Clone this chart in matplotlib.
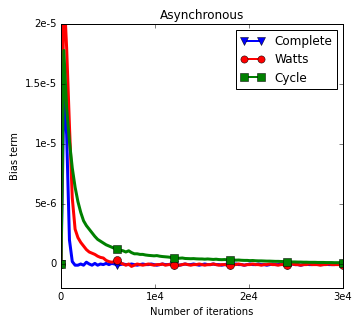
import numpy as np
import matplotlib
matplotlib.use("Agg")
import matplotlib.pyplot as plt

plt.style.use('classic')

iterations = np.arange(0, 30001, 300)

# values in units of 1e-6
complete = [0, 13.8, 10.8, 2.0, 0.2, -0.1, -0.1, 0.0, -0.1, 0.15,
            0.0, -0.1, 0.05, -0.1, 0.0, -0.05, 0.05, -0.05, 0.05, 0.0,
            -0.1, -0.05, 0.0, -0.05, -0.05, 0.0, -0.05, -0.1, -0.05, 0.0,
            -0.05, -0.05, 0.0, -0.05, -0.1, -0.05, 0.0, -0.05, -0.05, 0.0,
            -0.05, -0.05, -0.1, -0.05, 0.0, -0.05, -0.05, 0.0, -0.05, -0.1,
            -0.05, 0.0, -0.05, -0.05, 0.0, -0.05, -0.05, -0.1, -0.05, 0.0,
            -0.05, -0.05, 0.0, -0.05, -0.05, -0.1, -0.05, 0.0, -0.05, -0.05,
            0.0, -0.05, -0.05, -0.1, -0.05, 0.0, -0.05, -0.05, 0.0, -0.05,
            -0.05, -0.05, 0.0, -0.05, -0.05, -0.1, -0.05, 0.0, -0.05, -0.05,
            0.0, -0.05, -0.05, -0.05, 0.0, -0.05, -0.05, -0.05, 0.0, -0.05,
            -0.05]
watts = [0, 23.0, 18.0, 11.5, 5.5, 2.9, 2.2, 1.8, 1.5, 1.2,
         1.0, 0.9, 0.8, 0.65, 0.55, 0.5, 0.3, 0.2, 0.15, 0.2,
         0.35, 0.1, 0.0, -0.1, 0.0, -0.2, -0.1, 0.0, -0.05, -0.1,
         -0.05, 0.0, -0.05, -0.1, -0.05, -0.05, 0.0, -0.1, -0.05, -0.05,
         -0.1, -0.05, -0.1, -0.05, 0.0, -0.05, -0.1, -0.05, -0.05, 0.0,
         -0.05, -0.1, -0.05, -0.05, 0.0, -0.05, -0.1, -0.05, -0.05, -0.1,
         -0.1, -0.05, -0.05, 0.0, -0.05, -0.1, -0.05, -0.05, 0.0, -0.05,
         -0.05, -0.1, -0.05, -0.05, 0.0, -0.05, -0.05, -0.1, -0.05, -0.05,
         -0.05, -0.05, 0.0, -0.05, -0.05, -0.1, -0.05, -0.05, 0.0, -0.05,
         -0.05, -0.05, -0.1, -0.05, -0.05, 0.0, -0.05, -0.05, -0.05, -0.05,
         -0.05]
cycle = [0, 17.8, 13.0, 10.2, 8.0, 6.4, 5.2, 4.3, 3.6, 3.2,
         2.9, 2.6, 2.3, 2.05, 1.9, 1.75, 1.6, 1.5, 1.4, 1.3,
         1.25, 1.15, 1.1, 1.0, 1.1, 0.95, 0.85, 0.85, 0.8, 0.8,
         0.75, 0.72, 0.7, 0.68, 0.7, 0.65, 0.62, 0.6, 0.58, 0.55,
         0.5, 0.5, 0.48, 0.5, 0.46, 0.45, 0.44, 0.45, 0.43, 0.42,
         0.42, 0.4, 0.42, 0.4, 0.38, 0.4, 0.37, 0.36, 0.37, 0.35,
         0.34, 0.34, 0.32, 0.33, 0.31, 0.3, 0.3, 0.28, 0.29, 0.27,
         0.26, 0.26, 0.25, 0.24, 0.24, 0.23, 0.22, 0.22, 0.21, 0.2,
         0.18, 0.18, 0.17, 0.17, 0.16, 0.16, 0.15, 0.15, 0.14, 0.14,
         0.14, 0.13, 0.13, 0.13, 0.12, 0.12, 0.12, 0.11, 0.11, 0.11,
         0.1]

series = [("Complete", complete, 'b', 'v'),
          ("Watts", watts, 'r', 'o'),
          ("Cycle", cycle, 'g', 's')]

xticks = [0, 10000, 20000, 30000]
xticklabels = ["0", "1e4", "2e4", "3e4"]
yticks = [0, 5e-6, 1e-5, 1.5e-5, 2e-5]
yticklabels = ["0", "5e-6", "1e-5", "1.5e-5", "2e-5"]

fig = plt.figure(figsize=(363/72, 327/72), dpi=72, facecolor='white')
ax = fig.add_axes([61/363, 39/327, 282/363, 264/327])

for name, vals, c, m in series:
    ax.plot(iterations, np.array(vals) * 1e-6, color=c, marker=m, lw=3,
            markersize=8, markevery=20, label=name)

ax.set_xlim(0, 30000)
ax.set_ylim(-2e-6, 2e-5)
ax.set_xticks(xticks)
ax.set_xticklabels(xticklabels, fontsize=10)
ax.set_yticks(yticks)
ax.set_yticklabels(yticklabels, fontsize=10)
ax.set_title("Asynchronous", fontsize=12)
ax.set_xlabel("Number of iterations", fontsize=10)
ax.set_ylabel("Bias term", fontsize=10)
leg = ax.legend(loc='upper right', fontsize=12, numpoints=2, borderaxespad=0.5,
                handlelength=2.0, labelspacing=0.45, borderpad=0.4,
                markerscale=0.9)
for line in leg.get_lines():
    line.set_linewidth(2)

fig.savefig("out.png", dpi=72, facecolor='white')
